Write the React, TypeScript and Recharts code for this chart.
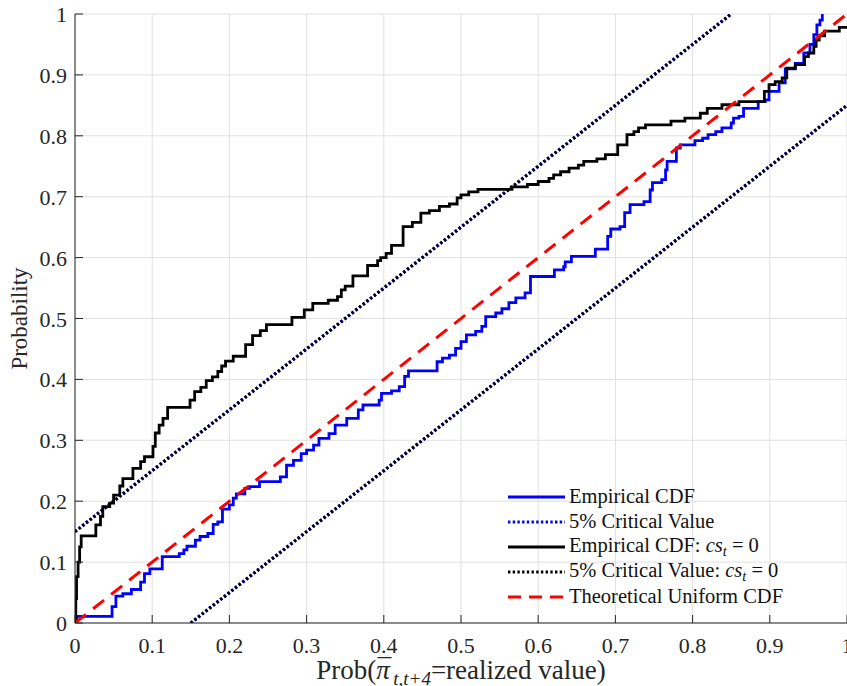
import React from 'react';
import { LineChart, Line, XAxis, YAxis, CartesianGrid, Legend } from 'recharts';

// ---------- data ----------
const empiricalX = [
  0, 0.002, 0.048, 0.053, 0.062, 0.073, 0.085, 0.09, 0.097, 0.113, 0.135, 0.141, 0.145, 0.156, 0.162,
  0.172, 0.179, 0.185, 0.191, 0.2, 0.205, 0.209, 0.22, 0.226, 0.239, 0.266, 0.274, 0.283, 0.293, 0.3,
  0.309, 0.316, 0.329, 0.337, 0.352, 0.367, 0.373, 0.394, 0.397, 0.41, 0.42, 0.427, 0.432, 0.469, 0.476,
  0.485, 0.493, 0.5, 0.507, 0.519, 0.527, 0.532, 0.545, 0.553, 0.562, 0.571, 0.583, 0.59, 0.621, 0.633,
  0.635, 0.643, 0.674, 0.69, 0.694, 0.706, 0.712, 0.719, 0.737, 0.745, 0.748, 0.76, 0.765, 0.767, 0.779,
  0.784, 0.803, 0.813, 0.82, 0.83, 0.838, 0.85, 0.853, 0.86, 0.866, 0.885, 0.894, 0.899, 0.912, 0.92,
  0.933, 0.944, 0.952, 0.957, 0.961, 0.965, 0.968,
];
const empiricalY = [
  0, 0.011, 0.027, 0.044, 0.048, 0.055, 0.067, 0.081, 0.089, 0.109, 0.114, 0.12, 0.126, 0.136, 0.142,
  0.147, 0.162, 0.166, 0.187, 0.194, 0.205, 0.212, 0.221, 0.224, 0.232, 0.24, 0.259, 0.267, 0.278, 0.284,
  0.292, 0.303, 0.311, 0.325, 0.336, 0.35, 0.358, 0.366, 0.377, 0.381, 0.388, 0.405, 0.414, 0.429, 0.435,
  0.44, 0.451, 0.462, 0.473, 0.479, 0.487, 0.503, 0.509, 0.516, 0.526, 0.534, 0.542, 0.569, 0.58, 0.585,
  0.593, 0.602, 0.614, 0.635, 0.647, 0.651, 0.674, 0.687, 0.692, 0.711, 0.723, 0.728, 0.744, 0.758, 0.78,
  0.785, 0.792, 0.796, 0.802, 0.807, 0.813, 0.821, 0.829, 0.832, 0.845, 0.856, 0.859, 0.873, 0.887, 0.91,
  0.919, 0.936, 0.95, 0.966, 0.982, 0.99, 1,
];

const empiricalCs0X = [
  0, 0.001, 0.002, 0.004, 0.006, 0.008, 0.027, 0.033, 0.036, 0.045, 0.05, 0.058, 0.062, 0.075, 0.085,
  0.09, 0.101, 0.104, 0.109, 0.114, 0.12, 0.149, 0.155, 0.163, 0.17, 0.178, 0.185, 0.19, 0.195, 0.205,
  0.221, 0.23, 0.24, 0.248, 0.281, 0.297, 0.308, 0.328, 0.34, 0.345, 0.35, 0.36, 0.379, 0.392, 0.396,
  0.403, 0.41, 0.425, 0.437, 0.448, 0.459, 0.472, 0.485, 0.495, 0.5, 0.51, 0.522, 0.566, 0.586, 0.6,
  0.614, 0.62, 0.629, 0.64, 0.652, 0.659, 0.676, 0.687, 0.703, 0.715, 0.724, 0.73, 0.739, 0.772, 0.79,
  0.81, 0.819, 0.838, 0.86, 0.893, 0.899, 0.907, 0.916, 0.922, 0.933, 0.945, 0.95, 0.957, 0.96, 0.964,
  0.971, 0.99, 1,
];
const empiricalCs0Y = [
  0, 0.04, 0.076, 0.1, 0.125, 0.143, 0.161, 0.175, 0.191, 0.197, 0.21, 0.225, 0.237, 0.254, 0.265,
  0.273, 0.29, 0.312, 0.325, 0.336, 0.354, 0.366, 0.38, 0.387, 0.398, 0.404, 0.413, 0.422, 0.43, 0.438,
  0.457, 0.472, 0.48, 0.49, 0.502, 0.514, 0.525, 0.53, 0.536, 0.547, 0.553, 0.57, 0.587, 0.595, 0.6,
  0.607, 0.62, 0.651, 0.658, 0.673, 0.677, 0.684, 0.688, 0.698, 0.703, 0.708, 0.712, 0.716, 0.72, 0.725,
  0.73, 0.736, 0.741, 0.747, 0.752, 0.758, 0.762, 0.769, 0.785, 0.802, 0.807, 0.813, 0.818, 0.824, 0.829,
  0.837, 0.845, 0.851, 0.856, 0.873, 0.884, 0.889, 0.895, 0.911, 0.917, 0.93, 0.936, 0.947, 0.957, 0.964,
  0.972, 0.978, 0.978,
];

const uniformX = [0, 1];
const uniformY = [0, 1];
const critUpperX = [0, 0.85];
const critUpperY = [0.15, 1];
const critLowerX = [0.15, 1];
const critLowerY = [0, 0.85];

const tickValues = [0, 0.1, 0.2, 0.3, 0.4, 0.5, 0.6, 0.7, 0.8, 0.9, 1];
const tickLabels = ['0', '0.1', '0.2', '0.3', '0.4', '0.5', '0.6', '0.7', '0.8', '0.9', '1'];

const seriesNames = [
  'Empirical CDF',
  '5% Critical Value',
  'Empirical CDF: cs_t = 0',
  '5% Critical Value: cs_t = 0',
  'Theoretical Uniform CDF',
];
const yAxisTitle = 'Probability';

// ---------- styling ----------
const FONT = "'Liberation Serif', 'Times New Roman', serif";
const AXIS = '#262626';
const GRID = '#e0e0e0';
const BLUE = '#0000ff';
const RED = '#ff0000';
const BLACK = '#000000';
const DOT = '2.4 2.3';
const DASH = '14 9';

const legendStyles = [
  { color: BLUE, dash: undefined as string | undefined },
  { color: BLUE, dash: DOT },
  { color: BLACK, dash: undefined },
  { color: BLACK, dash: DOT },
  { color: RED, dash: '13 8' },
];

const toPoints = (xs: number[], ys: number[]) => xs.map((x, i) => ({ x, y: ys[i] }));

const labelFor = (v: number) => {
  const i = tickValues.findIndex((t) => Math.abs(t - v) < 1e-9);
  return i >= 0 ? tickLabels[i] : String(v);
};

const TickBottom = (props: any) => {
  const { x, y, payload } = props;
  return (
    <g>
      <line x1={x} y1={y} x2={x} y2={y - 8} stroke={AXIS} strokeWidth={1} />
      <text x={x} y={y + 30} textAnchor="middle" fontSize={22} fill={AXIS} fontFamily={FONT}>
        {labelFor(payload.value)}
      </text>
    </g>
  );
};
const TickTop = (props: any) => {
  const { x, y } = props;
  return <line x1={x} y1={y} x2={x} y2={y + 8} stroke={AXIS} strokeWidth={1} />;
};
const TickLeft = (props: any) => {
  const { x, y, payload } = props;
  return (
    <g>
      <line x1={x} y1={y} x2={x + 8} y2={y} stroke={AXIS} strokeWidth={1} />
      <text x={x - 8} y={y + 8} textAnchor="end" fontSize={22} fill={AXIS} fontFamily={FONT}>
        {labelFor(payload.value)}
      </text>
    </g>
  );
};
const TickRight = (props: any) => {
  const { x, y } = props;
  return <line x1={x} y1={y} x2={x - 8} y2={y} stroke={AXIS} strokeWidth={1} />;
};

const XTitle = (props: any) => {
  const vb = props.viewBox || { x: 75, y: 623, width: 772, height: 63 };
  const cx = vb.x + vb.width / 2;
  const by = vb.y + 56;
  return (
    <text x={cx} y={by} textAnchor="middle" fontSize={27} fill={AXIS} fontFamily={FONT}>
      <tspan>Prob(</tspan>
      <tspan fontStyle="italic">{'\u03C0'}</tspan>
      <tspan dx={-12} dy={-1}>{'\u00AF'}</tspan>
      <tspan fontStyle="italic" fontSize={19} dx={2} dy={7}>t,t+4</tspan>
      <tspan dy={-6}>=realized value)</tspan>
    </text>
  );
};

const YTitle = (props: any) => {
  const vb = props.viewBox || { x: 0, y: 14, width: 75, height: 609 };
  const cx = 27;
  const cy = vb.y + vb.height / 2;
  return (
    <text
      x={cx}
      y={cy}
      transform={`rotate(-90 ${cx} ${cy})`}
      textAnchor="middle"
      fontSize={23}
      fill={AXIS}
      fontFamily={FONT}
    >
      {yAxisTitle}
    </text>
  );
};

const renderName = (name: string) => {
  const suffix = ': cs_t = 0';
  if (name.endsWith(suffix)) {
    const base = name.slice(0, name.length - suffix.length);
    return (
      <>
        {base}:{' '}
        <span style={{ fontStyle: 'italic' }}>cs</span>
        <span style={{ fontStyle: 'italic', fontSize: '0.7em', position: 'relative', top: '0.3em' }}>t</span>
        {' = 0'}
      </>
    );
  }
  return name;
};

const LegendBox = () => (
  <div style={{ fontFamily: FONT }}>
    {seriesNames.map((name, i) => (
      <div key={name} style={{ display: 'flex', alignItems: 'center', height: 25 }}>
        <svg width={57} height={8} style={{ display: 'block' }}>
          <line
            x1={0}
            y1={4}
            x2={57}
            y2={4}
            stroke={legendStyles[i].color}
            strokeWidth={legendStyles[i].dash ? 3 : 2.8}
            strokeDasharray={legendStyles[i].dash}
          />
        </svg>
        <span style={{ marginLeft: 4, fontSize: 20.5, lineHeight: '25px', color: '#111', whiteSpace: 'nowrap' }}>
          {renderName(name)}
        </span>
      </div>
    ))}
  </div>
);

export default function App() {
  const blue = toPoints(empiricalX, empiricalY);
  const black = toPoints(empiricalCs0X, empiricalCs0Y);
  const uniform = toPoints(uniformX, uniformY);
  const upper = toPoints(critUpperX, critUpperY);
  const lower = toPoints(critLowerX, critLowerY);

  return (
    <div style={{ position: 'absolute', left: 0, top: 0, width: 847, height: 686, background: '#fff' }}>
      <LineChart width={847} height={686} margin={{ top: 14, right: 0, bottom: 0, left: 0 }}>
        <CartesianGrid stroke={GRID} strokeWidth={1} />
        <XAxis
          type="number"
          dataKey="x"
          domain={[0, 1]}
          allowDataOverflow
          ticks={tickValues}
          interval={0}
          height={63}
          tickSize={0}
          tickMargin={0}
          tickLine={false}
          axisLine={{ stroke: AXIS, strokeWidth: 1 }}
          tick={<TickBottom />}
          label={<XTitle />}
        />
        <XAxis
          xAxisId="top"
          orientation="top"
          type="number"
          dataKey="x"
          domain={[0, 1]}
          allowDataOverflow
          ticks={tickValues}
          interval={0}
          height={0}
          tickSize={0}
          tickMargin={0}
          tickLine={false}
          axisLine={{ stroke: AXIS, strokeWidth: 1 }}
          tick={<TickTop />}
        />
        <YAxis
          type="number"
          domain={[0, 1]}
          allowDataOverflow
          ticks={tickValues}
          interval={0}
          width={75}
          tickSize={0}
          tickMargin={0}
          tickLine={false}
          axisLine={{ stroke: AXIS, strokeWidth: 1 }}
          tick={<TickLeft />}
          label={<YTitle />}
        />
        <YAxis
          yAxisId="right"
          orientation="right"
          type="number"
          domain={[0, 1]}
          allowDataOverflow
          ticks={tickValues}
          interval={0}
          width={0}
          tickSize={0}
          tickMargin={0}
          tickLine={false}
          axisLine={{ stroke: AXIS, strokeWidth: 1 }}
          tick={<TickRight />}
        />
        <Line
          data={blue}
          dataKey="y"
          name={seriesNames[0]}
          type="stepAfter"
          stroke={BLUE}
          strokeWidth={2.8}
          dot={false}
          activeDot={false}
          isAnimationActive={false}
        />
        <Line
          data={upper}
          dataKey="y"
          name={seriesNames[1]}
          type="linear"
          stroke={BLUE}
          strokeWidth={3.4}
          strokeDasharray={DOT}
          dot={false}
          activeDot={false}
          isAnimationActive={false}
        />
        <Line
          data={lower}
          dataKey="y"
          name="lower-blue"
          legendType="none"
          type="linear"
          stroke={BLUE}
          strokeWidth={3.4}
          strokeDasharray={DOT}
          dot={false}
          activeDot={false}
          isAnimationActive={false}
        />
        <Line
          data={black}
          dataKey="y"
          name={seriesNames[2]}
          type="stepAfter"
          stroke={BLACK}
          strokeWidth={2.8}
          dot={false}
          activeDot={false}
          isAnimationActive={false}
        />
        <Line
          data={upper}
          dataKey="y"
          name={seriesNames[3]}
          type="linear"
          stroke={BLACK}
          strokeWidth={2.8}
          strokeDasharray={DOT}
          dot={false}
          activeDot={false}
          isAnimationActive={false}
        />
        <Line
          data={lower}
          dataKey="y"
          name="lower-black"
          legendType="none"
          type="linear"
          stroke={BLACK}
          strokeWidth={2.8}
          strokeDasharray={DOT}
          dot={false}
          activeDot={false}
          isAnimationActive={false}
        />
        <Line
          data={uniform}
          dataKey="y"
          name={seriesNames[4]}
          type="linear"
          stroke={RED}
          strokeWidth={3}
          strokeDasharray={DASH}
          dot={false}
          activeDot={false}
          isAnimationActive={false}
        />
        <Legend
          layout="vertical"
          align="center"
          verticalAlign="middle"
          wrapperStyle={{ left: 508, top: 484, right: 'auto', bottom: 'auto', width: 'auto' }}
          content={() => <LegendBox />}
        />
      </LineChart>
    </div>
  );
}
